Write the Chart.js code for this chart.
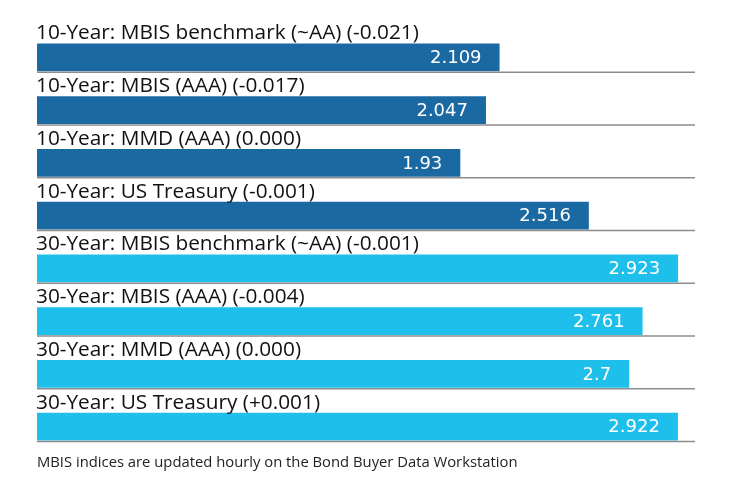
<!DOCTYPE html>
<html>
<head>
<meta charset="utf-8">
<script src="https://cdn.jsdelivr.net/npm/chart.js@4"></script>
<style>
  html, body { margin: 0; padding: 0; background: #fff; }
  #wrap { width: 740px; height: 490px; position: relative; }
</style>
</head>
<body>
<div id="wrap"><canvas id="yieldChart"></canvas></div>
<script>
// Data dari gambar
const categories = [
    '10-Year: MBIS benchmark (~AA) (-0.021)',
    '10-Year: MBIS (AAA) (-0.017)',
    '10-Year: MMD (AAA) (0.000)',
    '10-Year: US Treasury (-0.001)',
    '30-Year: MBIS benchmark (~AA) (-0.001)',
    '30-Year: MBIS (AAA) (-0.004)',
    '30-Year: MMD (AAA) (0.000)',
    '30-Year: US Treasury (+0.001)'
];
const yields = [2.109, 2.047, 1.93, 2.516, 2.923, 2.761, 2.7, 2.922];
const valueLabels = ['2.109', '2.047', '1.93', '2.516', '2.923', '2.761', '2.7', '2.922'];
const footNote = 'MBIS indices are updated hourly on the Bond Buyer Data Workstation';

const darkBlue = '#1b69a2';
const lightBlue = '#1ebfeb';
const barColors = yields.map((v, i) => i < 4 ? darkBlue : lightBlue);

// Plugin untuk label, garis pemisah, dan catatan kaki
const labelPlugin = {
    id: 'labelPlugin',
    afterDatasetsDraw(chart) {
        const ctx = chart.ctx;
        const area = chart.chartArea;
        const meta = chart.getDatasetMeta(0);
        ctx.save();
        meta.data.forEach((bar, i) => {
            const top = bar.y - bar.height / 2;
            const bottom = bar.y + bar.height / 2;

            // garis pemisah
            ctx.strokeStyle = '#8c8c8c';
            ctx.lineWidth = 1.5;
            ctx.beginPath();
            ctx.moveTo(area.left, bottom + 1);
            ctx.lineTo(area.right, bottom + 1);
            ctx.stroke();

            // label kategori di atas bar
            ctx.fillStyle = '#111';
            ctx.font = '20.8px "Open Sans"';
            ctx.textAlign = 'left';
            ctx.textBaseline = 'alphabetic';
            ctx.fillText(categories[i], area.left - 1, top - 4);

            // nilai di dalam bar
            ctx.fillStyle = '#fff';
            ctx.font = '18px "DejaVu Sans"';
            ctx.textAlign = 'right';
            ctx.textBaseline = 'middle';
            ctx.fillText(valueLabels[i], bar.x - 18, bar.y + 1);
        });

        // catatan kaki
        ctx.fillStyle = '#222';
        ctx.font = '14.8px "Open Sans"';
        ctx.textAlign = 'left';
        ctx.textBaseline = 'middle';
        ctx.fillText(footNote, area.left, 463);
        ctx.restore();
    }
};

function setupChart() {
    const ctx = document.getElementById('yieldChart').getContext('2d');
    new Chart(ctx, {
        type: 'bar',
        data: {
            labels: categories,
            datasets: [{
                data: yields,
                backgroundColor: barColors,
                borderWidth: 0,
                categoryPercentage: 1,
                barPercentage: 0.53
            }]
        },
        options: {
            indexAxis: 'y',
            responsive: true,
            maintainAspectRatio: false,
            animation: false,
            layout: {
                padding: { left: 37, right: 45, top: 31, bottom: 37 }
            },
            scales: {
                x: { display: false, min: 0, max: 3 },
                y: { display: false }
            },
            plugins: {
                legend: { display: false },
                tooltip: { enabled: false }
            }
        },
        plugins: [labelPlugin]
    });
}

setupChart();
</script>
</body>
</html>
